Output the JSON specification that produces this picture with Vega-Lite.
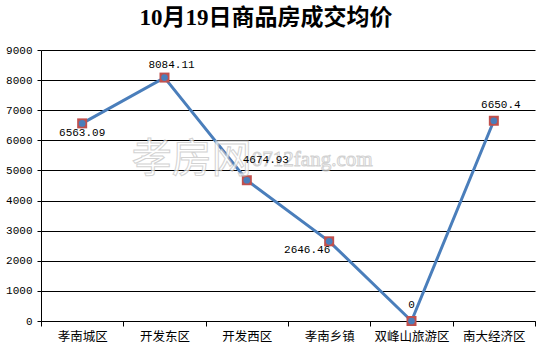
{
  "$schema": "https://vega.github.io/schema/vega-lite/v6.json",
  "width": 494,
  "height": 271,
  "autosize": {"type": "none"},
  "padding": {"left": 41, "top": 50, "right": 3, "bottom": 32},
  "background": "white",
  "config": {"view": {"stroke": null}},
  "title": {
    "text": "10月19日商品房成交均价",
    "font": "Liberation Serif, Noto Sans CJK SC",
    "fontSize": 23,
    "fontWeight": "bold",
    "color": "black",
    "anchor": "middle",
    "dx": -22,
    "offset": 14
  },
  "data": {
    "values": [
      {"area": "孝南城区", "price": 6563.09, "label": "6563.09"},
      {"area": "开发东区", "price": 8084.11, "label": "8084.11"},
      {"area": "开发西区", "price": 4674.93, "label": "4674.93"},
      {"area": "孝南乡镇", "price": 2646.46, "label": "2646.46"},
      {"area": "双峰山旅游区", "price": 0, "label": "0"},
      {"area": "南大经济区", "price": 6650.4, "label": "6650.4"}
    ]
  },
  "encoding": {
    "x": {
      "field": "area",
      "type": "nominal",
      "scale": {"type": "band", "paddingInner": 0, "paddingOuter": 0, "domain": ["孝南城区", "开发东区", "开发西区", "孝南乡镇", "双峰山旅游区", "南大经济区"]},
      "bandPosition": 0.5,
      "axis": {
        "title": null,
        "tickBand": "extent",
        "labelAngle": 0,
        "domainColor": "black",
        "tickColor": "black",
        "tickSize": 5,
        "labelFont": "Noto Sans CJK SC",
        "labelFontSize": 12.5,
        "labelColor": "black",
        "labelPadding": 4,
        "grid": false
      }
    },
    "y": {
      "field": "price",
      "type": "quantitative",
      "scale": {"domain": [0, 9000], "nice": false},
      "axis": {
        "title": null,
        "values": [0, 1000, 2000, 3000, 4000, 5000, 6000, 7000, 8000, 9000],
        "format": "d",
        "grid": true,
        "gridColor": "black",
        "gridWidth": 1,
        "gridOpacity": 1,
        "domainColor": "black",
        "tickColor": "black",
        "tickSize": 4,
        "labelFont": "Liberation Mono",
        "labelFontSize": 11,
        "labelColor": "black",
        "labelPadding": 5
      }
    }
  },
  "layer": [
    {"mark": {"type": "line", "color": "#4a7ebb", "strokeWidth": 3}},
    {"mark": {"type": "point", "shape": "square", "filled": true, "color": "#c0504d", "size": 100, "opacity": 1}},
    {"mark": {"type": "point", "shape": "circle", "filled": true, "color": "#4a7ebb", "size": 45, "opacity": 1}},
    {
      "data": {"values": [{"t": "孝房网", "p": "开发西区", "v": 5350}]},
      "mark": {"type": "text", "align": "right", "baseline": "middle", "dx": 5, "font": "Noto Sans CJK SC", "fontSize": 40, "color": "#ffffff", "opacity": 0.75, "stroke": "#c4c4c4", "strokeWidth": 1},
      "encoding": {
        "x": {"field": "p", "type": "nominal", "bandPosition": 0.5},
        "y": {"field": "v", "type": "quantitative"},
        "text": {"field": "t"}
      }
    },
    {
      "data": {"values": [{"t": "0712fang.com", "p": "开发西区", "v": 5350}]},
      "mark": {"type": "text", "align": "left", "baseline": "middle", "dx": 5, "font": "Liberation Serif", "fontSize": 21, "color": "#ffffff", "opacity": 0.75, "stroke": "#c4c4c4", "strokeWidth": 1},
      "encoding": {
        "x": {"field": "p", "type": "nominal", "bandPosition": 0.5},
        "y": {"field": "v", "type": "quantitative"},
        "text": {"field": "t"}
      }
    },
    {
      "transform": [{"filter": "datum.area === '孝南城区'"}],
      "mark": {"type": "text", "font": "Liberation Mono", "fontSize": 11, "color": "black", "baseline": "middle", "dx": 0, "dy": 10},
      "encoding": {"text": {"field": "label"}}
    },
    {
      "transform": [{"filter": "datum.area === '开发东区'"}],
      "mark": {"type": "text", "font": "Liberation Mono", "fontSize": 11, "color": "black", "baseline": "middle", "dx": 7, "dy": -13},
      "encoding": {"text": {"field": "label"}}
    },
    {
      "transform": [{"filter": "datum.area === '开发西区'"}],
      "mark": {"type": "text", "font": "Liberation Mono", "fontSize": 11, "color": "black", "baseline": "middle", "dx": 19, "dy": -20},
      "encoding": {"text": {"field": "label"}}
    },
    {
      "transform": [{"filter": "datum.area === '孝南乡镇'"}],
      "mark": {"type": "text", "font": "Liberation Mono", "fontSize": 11, "color": "black", "baseline": "middle", "dx": -22, "dy": 9},
      "encoding": {"text": {"field": "label"}}
    },
    {
      "transform": [{"filter": "datum.area === '双峰山旅游区'"}],
      "mark": {"type": "text", "font": "Liberation Mono", "fontSize": 11, "color": "black", "baseline": "middle", "dx": 0, "dy": -16},
      "encoding": {"text": {"field": "label"}}
    },
    {
      "transform": [{"filter": "datum.area === '南大经济区'"}],
      "mark": {"type": "text", "font": "Liberation Mono", "fontSize": 11, "color": "black", "baseline": "middle", "dx": 7, "dy": -16},
      "encoding": {"text": {"field": "label"}}
    }
  ]
}
